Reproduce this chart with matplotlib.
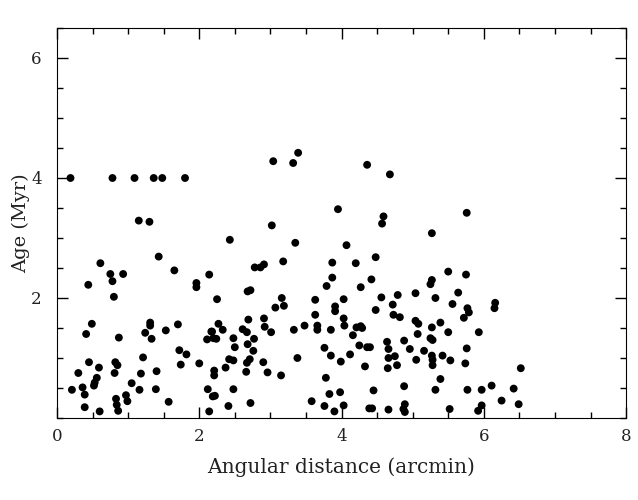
import matplotlib
matplotlib.use("Agg")
import matplotlib.pyplot as plt
from matplotlib.ticker import MultipleLocator

# angular distance (arcmin) and age (Myr)
dist = [
    0.19, 0.78, 1.09, 1.36, 1.48, 1.80, 1.15, 1.30, 3.04, 3.32, 3.39, 3.02,
    2.43, 1.43, 0.61, 0.75, 0.93, 0.78, 0.44, 1.65, 1.96, 2.14, 2.78, 2.86,
    2.91, 3.18, 3.35, 4.36, 4.68, 3.95, 4.59, 4.57, 5.76, 5.27, 4.07, 3.87,
    4.20, 4.48, 3.87, 4.42, 5.50, 5.75, 5.27, 0.80, 1.96, 0.49, 0.41, 0.87,
    1.31, 1.31, 1.24, 1.33, 1.53, 1.70, 1.72, 1.82, 1.74, 2.00, 2.17, 2.11,
    1.21, 0.45, 0.59, 0.82, 0.85, 0.30, 0.56, 0.53, 0.52, 0.81, 1.18, 1.40,
    1.05, 0.21, 0.36, 0.39, 1.16, 1.39, 0.97, 0.99, 0.83, 0.84, 0.86, 1.57,
    0.39, 0.60, 2.12, 2.19, 2.14, 2.68, 2.72, 2.25, 3.07, 3.19, 3.16, 3.63,
    3.79, 4.27, 4.03, 3.91, 3.91, 3.63, 2.27, 2.33, 2.18, 2.20, 2.24, 2.69,
    2.91, 2.92, 3.01, 2.61, 2.67, 2.48, 2.50, 2.77, 2.68, 2.76, 2.71, 2.67,
    2.42, 2.48, 2.37, 2.66, 2.90, 2.96, 3.15, 3.38, 3.33, 3.48, 3.66, 3.66,
    3.85, 4.03, 4.04, 4.21, 4.27, 4.29, 4.16, 3.76, 3.85, 3.99, 4.12, 4.25,
    4.36, 4.33, 2.21, 2.21, 3.78, 2.48, 2.22, 2.41, 2.72, 3.58, 3.83, 3.98,
    3.76, 3.90, 4.03, 4.39, 5.25, 4.56, 4.79, 5.04, 5.32, 5.64, 4.72, 4.48,
    4.73, 4.82, 5.56, 5.77, 5.79, 5.72, 6.16, 6.15, 5.04, 5.08, 5.39, 5.27,
    5.07, 5.25, 5.28, 5.50, 5.93, 4.88, 4.64, 4.66, 4.40, 4.96, 5.16, 5.27,
    5.28, 5.28, 5.42, 5.53, 5.76, 5.74, 4.66, 4.75, 4.78, 4.65, 5.05, 6.52,
    5.39, 5.32, 4.88, 4.45, 5.77, 5.97, 6.11, 6.42, 6.25, 6.49, 4.43, 4.66,
    4.89, 4.87, 4.89, 5.52, 5.97, 5.92,
]
age = [
    4.00, 4.00, 4.00, 4.00, 4.00, 4.00, 3.29, 3.27, 4.28, 4.25, 4.42, 3.21,
    2.97, 2.69, 2.58, 2.40, 2.40, 2.28, 2.22, 2.46, 2.25, 2.39, 2.51, 2.51,
    2.56, 2.61, 2.92, 4.22, 4.06, 3.48, 3.36, 3.24, 3.42, 3.08, 2.88, 2.59,
    2.58, 2.68, 2.34, 2.31, 2.44, 2.39, 2.30, 2.02, 2.18, 1.57, 1.40, 1.34,
    1.59, 1.54, 1.42, 1.32, 1.46, 1.56, 1.13, 1.06, 0.89, 0.91, 1.44, 1.31,
    1.01, 0.93, 0.84, 0.93, 0.88, 0.75, 0.67, 0.59, 0.54, 0.75, 0.74, 0.78,
    0.58, 0.47, 0.51, 0.39, 0.47, 0.48, 0.38, 0.28, 0.32, 0.22, 0.12, 0.27,
    0.18, 0.11, 0.48, 0.36, 0.11, 2.11, 2.13, 1.98, 1.84, 1.87, 2.00, 1.97,
    2.20, 2.18, 1.98, 1.86, 1.78, 1.72, 1.57, 1.47, 1.44, 1.33, 1.32, 1.64,
    1.66, 1.52, 1.43, 1.48, 1.43, 1.33, 1.18, 1.32, 1.23, 1.12, 0.98, 0.92,
    0.98, 0.96, 0.84, 0.77, 0.93, 0.76, 0.71, 1.00, 1.47, 1.54, 1.54, 1.47,
    1.47, 1.66, 1.54, 1.51, 1.53, 1.50, 1.38, 1.17, 1.04, 0.94, 1.06, 1.21,
    1.18, 0.86, 0.79, 0.71, 0.67, 0.48, 0.37, 0.20, 0.25, 0.28, 0.40, 0.43,
    0.20, 0.11, 0.21, 0.16, 2.23, 2.01, 2.05, 2.08, 2.00, 2.09, 1.89, 1.80,
    1.72, 1.68, 1.90, 1.83, 1.76, 1.67, 1.92, 1.83, 1.62, 1.57, 1.59, 1.51,
    1.40, 1.33, 1.30, 1.43, 1.43, 1.29, 1.27, 1.15, 1.18, 1.15, 1.12, 1.04,
    0.97, 0.88, 1.04, 0.96, 1.16, 0.91, 1.00, 1.03, 0.88, 0.83, 0.97, 0.83,
    0.65, 0.47, 0.53, 0.46, 0.47, 0.47, 0.54, 0.49, 0.29, 0.23, 0.16, 0.14,
    0.23, 0.15, 0.10, 0.15, 0.21, 0.12,
]

plt.rcParams["font.family"] = ["DejaVu Serif"]

fig = plt.figure(figsize=(6.38, 5.0), dpi=100)
ax = fig.add_axes([0.0893, 0.164, 0.892, 0.78])

ax.scatter(dist, age, s=32, c="black", edgecolors="none")

ax.set_xlim(0, 8)
ax.set_ylim(0, 6.5)
ax.set_xticks([0, 2, 4, 6, 8])
ax.set_yticks([2, 4, 6])
ax.xaxis.set_minor_locator(MultipleLocator(0.5))
ax.yaxis.set_minor_locator(MultipleLocator(0.5))
ax.tick_params(which="both", direction="in", top=True, right=True, width=1,
               labelsize=12, labelcolor="#222222")
ax.tick_params(which="major", length=8)
ax.tick_params(which="minor", length=4.5)
ax.tick_params(axis="x", pad=7)
ax.tick_params(axis="y", pad=11)

ax.set_xlabel("Angular distance (arcmin)", fontsize=14.5, labelpad=9, color="#222222")
ax.set_ylabel("Age (Myr)", fontsize=14, labelpad=1, color="#222222")

fig.savefig("out.png", dpi=100)
